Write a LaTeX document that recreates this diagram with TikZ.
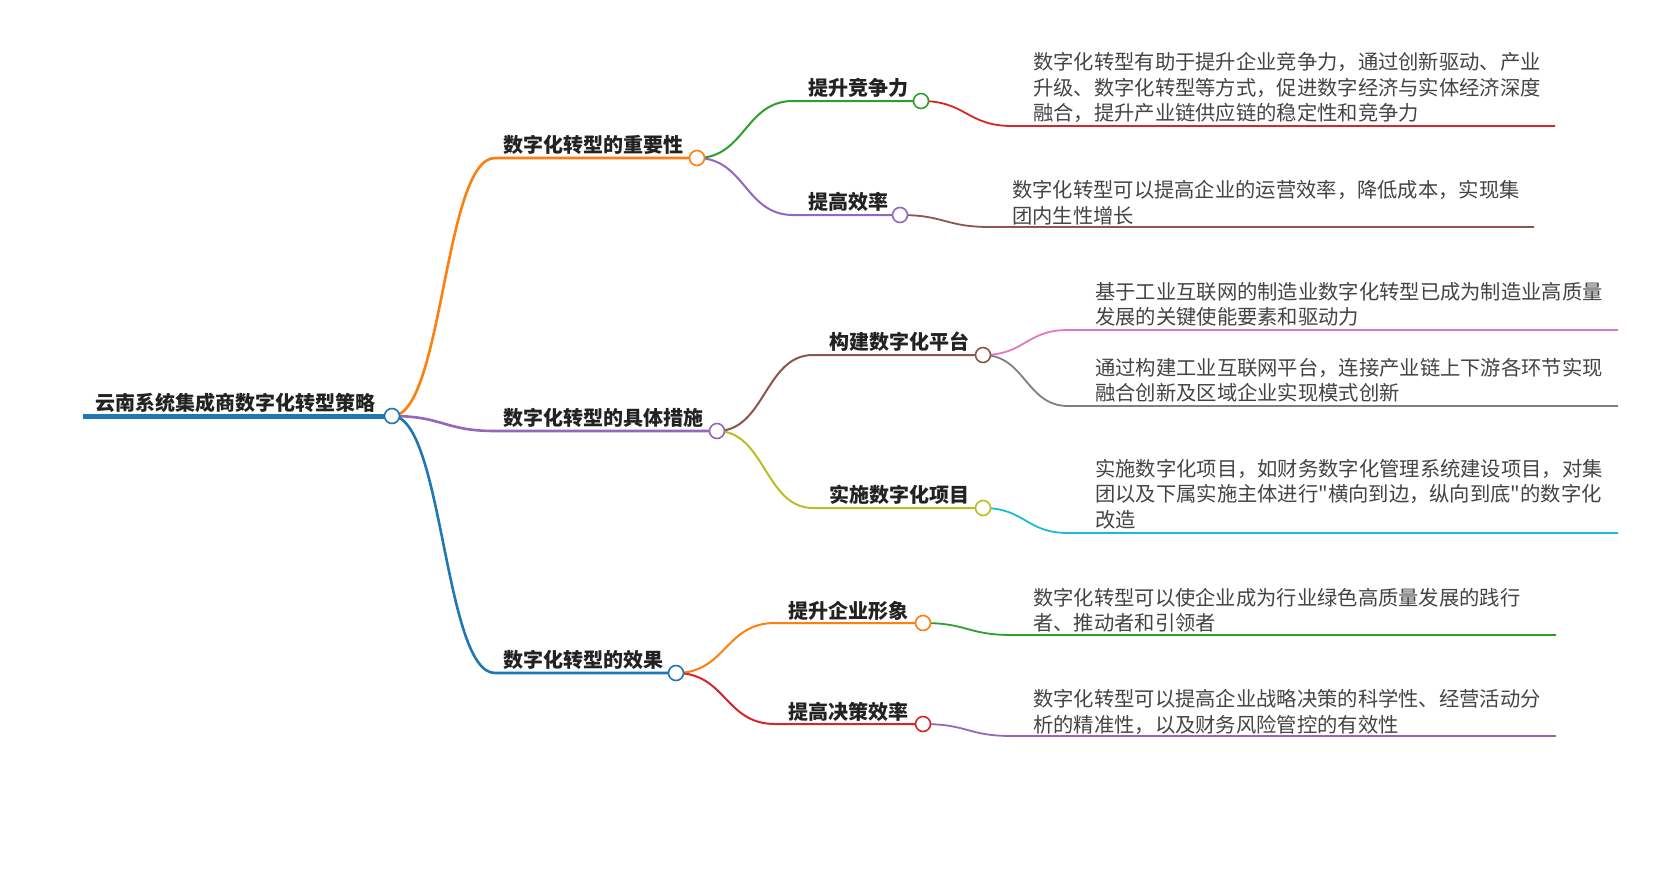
\documentclass[tikz,border=0pt]{standalone}
\usepackage{fontspec}
\newfontfamily\cjk{Noto Sans CJK SC}
\usetikzlibrary{calc}
\definecolor{tabblue}{HTML}{1F77B4}
\definecolor{taborange}{HTML}{FF7F0E}
\definecolor{tabgreen}{HTML}{2CA02C}
\definecolor{tabred}{HTML}{D62728}
\definecolor{tabpurple}{HTML}{9467BD}
\definecolor{tabbrown}{HTML}{8C564B}
\definecolor{tabpink}{HTML}{E377C2}
\definecolor{tabgray}{HTML}{7F7F7F}
\definecolor{tabolive}{HTML}{BCBD22}
\definecolor{tabcyan}{HTML}{17BECF}
\definecolor{labc}{HTML}{222222}
\definecolor{leafc}{HTML}{444444}
\begin{document}
\begin{tikzpicture}[x=1pt,y=-1pt,
  lab/.style={anchor=base west, inner sep=0pt, font=\cjk\bfseries\fontsize{20}{24}\selectfont, text=labc},
  leaf/.style={anchor=base west, inner sep=0pt, align=left, font=\cjk\fontsize{20.3}{25.4}\selectfont, text=leafc},
  dot/.style={circle, draw=#1, fill=white, line width=1.6pt, minimum size=15pt, inner sep=0pt},
  lone/.style={draw=#1, line width=2.6pt},
  ltwo/.style={draw=#1, line width=2pt},
  lthree/.style={draw=#1, line width=1.8pt}]
\useasboundingbox (0,0) rectangle (1656,883);
\fill[white] (0,0) rectangle (1656,883);
% coordinates
\coordinate (r0) at (83,416);
\coordinate (c0) at (392,416);
\coordinate (c1) at (697,158);
\coordinate (c2) at (717,431);
\coordinate (c3) at (676,673);
\coordinate (c11) at (921,101);
\coordinate (c12) at (900,215);
\coordinate (c21) at (983,355);
\coordinate (c22) at (983,508);
\coordinate (c31) at (923,623);
\coordinate (c32) at (923,724);
\coordinate (b1) at (495,158);
\coordinate (b2) at (495,431);
\coordinate (b3) at (495,673);
\coordinate (b11) at (793,101);
\coordinate (b12) at (793,215);
\coordinate (b21) at (813,355);
\coordinate (b22) at (813,508);
\coordinate (b31) at (775,623);
\coordinate (b32) at (775,724);
\coordinate (d11) at (1012,126);   \coordinate (e11) at (1555,126);
\coordinate (d12) at (990,227);    \coordinate (e12) at (1534,227);
\coordinate (d211) at (1068,330);  \coordinate (e211) at (1618,330);
\coordinate (d212) at (1068,406);  \coordinate (e212) at (1618,406);
\coordinate (d221) at (1068,533);  \coordinate (e221) at (1618,533);
\coordinate (d311) at (1012,635);  \coordinate (e311) at (1556,635);
\coordinate (d321) at (1012,736);  \coordinate (e321) at (1556,736);
% root underline
\draw[tabblue, line width=5pt] (r0) -- (c0);
% level 1
\draw[lone=taborange] (c0) .. controls +(51,0) and +(-51,0) .. (b1) -- (c1);
\draw[lone=tabpurple] (c0) .. controls +(51,0) and +(-51,0) .. (b2) -- (c2);
\draw[lone=tabblue] (c0) .. controls +(51,0) and +(-51,0) .. (b3) -- (c3);
% level 2
\draw[ltwo=tabgreen] (c1) .. controls +(48,0) and +(-48,0) .. (b11) -- (c11);
\draw[ltwo=tabpurple] (c1) .. controls +(48,0) and +(-48,0) .. (b12) -- (c12);
\draw[ltwo=tabbrown] (c2) .. controls +(48,0) and +(-48,0) .. (b21) -- (c21);
\draw[ltwo=tabolive] (c2) .. controls +(48,0) and +(-48,0) .. (b22) -- (c22);
\draw[ltwo=taborange] (c3) .. controls +(50,0) and +(-50,0) .. (b31) -- (c31);
\draw[ltwo=tabred] (c3) .. controls +(50,0) and +(-50,0) .. (b32) -- (c32);
% level 3
\draw[lthree=tabred] (c11) .. controls +(45,0) and +(-45,0) .. (d11) -- (e11);
\draw[lthree=tabbrown] (c12) .. controls +(45,0) and +(-45,0) .. (d12) -- (e12);
\draw[lthree=tabpink] (c21) .. controls +(42,0) and +(-42,0) .. (d211) -- (e211);
\draw[lthree=tabgray] (c21) .. controls +(42,0) and +(-42,0) .. (d212) -- (e212);
\draw[lthree=tabcyan] (c22) .. controls +(42,0) and +(-42,0) .. (d221) -- (e221);
\draw[lthree=tabgreen] (c31) .. controls +(45,0) and +(-45,0) .. (d311) -- (e311);
\draw[lthree=tabpurple] (c32) .. controls +(45,0) and +(-45,0) .. (d321) -- (e321);
% circles
\node[dot=tabblue] (n0) at (c0) {};
\node[dot=taborange] (n1) at (c1) {};
\node[dot=tabpurple] (n2) at (c2) {};
\node[dot=tabblue] (n3) at (c3) {};
\node[dot=tabgreen] (n11) at (c11) {};
\node[dot=tabpurple] (n12) at (c12) {};
\node[dot=tabbrown] (n21) at (c21) {};
\node[dot=tabolive] (n22) at (c22) {};
\node[dot=taborange] (n31) at (c31) {};
\node[dot=tabred] (n32) at (c32) {};
% labels
\node[lab] (t0) at (95,410) {云南系统集成商数字化转型策略};
\node[lab] (t1) at (503,152) {数字化转型的重要性};
\node[lab] (t2) at (503,425) {数字化转型的具体措施};
\node[lab] (t3) at (503,667) {数字化转型的效果};
\node[lab] (t11) at (808,95) {提升竞争力};
\node[lab] (t12) at (808,209) {提高效率};
\node[lab] (t21) at (829,349) {构建数字化平台};
\node[lab] (t22) at (829,502) {实施数字化项目};
\node[lab] (t31) at (788,618) {提升企业形象};
\node[lab] (t32) at (788,719) {提高决策效率};
% leaves (anchor = baseline of last line)
\node[leaf] (f11) at (1033,120.6) {数字化转型有助于提升企业竞争力，通过创新驱动、产业\\升级、数字化转型等方式，促进数字经济与实体经济深度\\融合，提升产业链供应链的稳定性和竞争力};
\node[leaf] (f12) at (1012,223) {数字化转型可以提高企业的运营效率，降低成本，实现集\\团内生性增长};
\node[leaf] (f211) at (1095,324.4) {基于工业互联网的制造业数字化转型已成为制造业高质量\\发展的关键使能要素和驱动力};
\node[leaf] (f212) at (1095,400.5) {通过构建工业互联网平台，连接产业链上下游各环节实现\\融合创新及区域企业实现模式创新};
\node[leaf] (f221) at (1095,527.2) {实施数字化项目，如财务数字化管理系统建设项目，对集\\团以及下属实施主体进行"横向到边，纵向到底"的数字化\\改造};
\node[leaf] (f311) at (1033,630.6) {数字化转型可以使企业成为行业绿色高质量发展的践行\\者、推动者和引领者};
\node[leaf] (f321) at (1033,732.1) {数字化转型可以提高企业战略决策的科学性、经营活动分\\析的精准性，以及财务风险管控的有效性};
\end{tikzpicture}
\end{document}
